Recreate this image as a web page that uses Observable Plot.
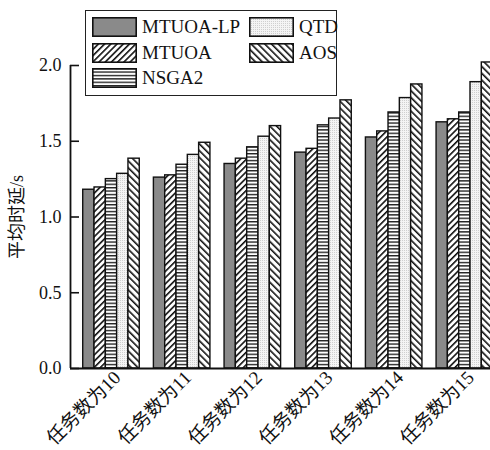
<!DOCTYPE html>
<html>
<head>
<meta charset="utf-8">
<script src="https://cdn.jsdelivr.net/npm/d3@7"></script>
<script src="https://cdn.jsdelivr.net/npm/@observablehq/plot@0.6"></script>
<style>
  html, body { margin: 0; padding: 0; background: #fff; overflow: hidden; }
  #wrap { position: relative; width: 490px; height: 450px; }
  #legend {
    position: absolute; left: 85px; top: 10px; width: 250px; height: 84px;
    border: 1.6px solid #222; background: #fff;
    font-family: "Liberation Serif", "Noto Sans CJK SC", serif; font-size: 19px; color: #111;
  }
  .item { position: absolute; height: 19px; }
  .item svg { position: absolute; left: 0; top: 0; }
  .item span { position: absolute; left: 50px; top: 0px; line-height: 19px; white-space: nowrap; }
</style>
</head>
<body>
<svg width="0" height="0" style="position:absolute">
  <defs>
    <pattern id="pLP" patternUnits="userSpaceOnUse" width="4" height="4">
      <rect width="4" height="4" fill="#8a8a8a"/>
    </pattern>
    <pattern id="pMTUOA" patternUnits="userSpaceOnUse" width="4.4" height="4.4" patternTransform="rotate(45)">
      <rect width="4.4" height="4.4" fill="#fff"/>
      <line x1="0.8" y1="0" x2="0.8" y2="4.4" stroke="#111" stroke-width="1.6"/>
    </pattern>
    <pattern id="pNSGA2" patternUnits="userSpaceOnUse" width="4" height="3.4">
      <rect width="4" height="3.4" fill="#fff"/>
      <line x1="0" y1="0.7" x2="4" y2="0.7" stroke="#111" stroke-width="1.3"/>
    </pattern>
    <pattern id="pQTD" patternUnits="userSpaceOnUse" width="2" height="2">
      <rect width="2" height="2" fill="#f4f4f4"/>
      <rect width="1" height="1" fill="#cfcfcf"/>
    </pattern>
    <pattern id="pAOS" patternUnits="userSpaceOnUse" width="4.8" height="4.8" patternTransform="rotate(-45)">
      <rect width="4.8" height="4.8" fill="#fff"/>
      <line x1="0.8" y1="0" x2="0.8" y2="4.8" stroke="#111" stroke-width="1.6"/>
    </pattern>
  </defs>
</svg>
<div id="wrap"><div id="chart"></div><div id="legend"></div></div>
<script>
// ---- data ----
const groups = ["任务数为10", "任务数为11", "任务数为12", "任务数为13", "任务数为14", "任务数为15"];
const series = ["MTUOA-LP", "MTUOA", "NSGA2", "QTD", "AOS"];
const mtuoaLP = [1.18, 1.26, 1.35, 1.425, 1.525, 1.625];
const mtuoa   = [1.195, 1.275, 1.385, 1.45, 1.565, 1.645];
const nsga2   = [1.25, 1.345, 1.46, 1.605, 1.69, 1.69];
const qtd     = [1.285, 1.41, 1.53, 1.65, 1.785, 1.89];
const aos     = [1.385, 1.49, 1.60, 1.77, 1.875, 2.02];
const yTicks  = [0, 0.5, 1.0, 1.5, 2.0];
const fills   = ["url(#pLP)", "url(#pMTUOA)", "url(#pNSGA2)", "url(#pQTD)", "url(#pAOS)"];

// ---- layout (group index axis) ----
const barW = 0.16;               // bar width as a fraction of group step
const xDomain = [-0.58, 5.363];  // visible extent of the group axis (right side clipped)
const allValues = [mtuoaLP, mtuoa, nsga2, qtd, aos];
const rows = [];
groups.forEach((g, gi) => {
  series.forEach((s, si) => {
    const x1 = gi + (si - 2.5) * barW;
    rows.push({group: g, gi, series: s, si, x1, x2: x1 + barW, value: allValues[si][gi]});
  });
});

const font = "'Liberation Serif', 'Noto Sans CJK SC', serif";

const chart = Plot.plot({
  width: 490,
  height: 450,
  marginLeft: 70,
  marginRight: 0,
  marginTop: 65,
  marginBottom: 82,
  style: {fontFamily: font, fontSize: "18px", color: "#111", background: "#fff", overflow: "hidden"},
  x: {domain: xDomain, axis: null},
  y: {domain: [0, 2], axis: null},
  color: {domain: series, range: fills},
  marks: [
    Plot.rectY(rows, {x1: "x1", x2: "x2", y1: 0, y2: "value", fill: "series", stroke: "#111", strokeWidth: 1.4, clip: false}),
    Plot.ruleY([0], {stroke: "#111", strokeWidth: 1.8}),
    Plot.ruleX([xDomain[0]], {y1: 0, y2: 2, stroke: "#111", strokeWidth: 1.8}),
    Plot.axisY({ticks: yTicks, tickSize: -9, tickFormat: () => "", label: null, strokeWidth: 1.6}),
    Plot.axisY({ticks: yTicks, tickSize: 0, tickPadding: 9, tickFormat: d3.format(".1f"), fontSize: 18,
                label: "平均时延/s", labelAnchor: "center", labelArrow: "none", labelOffset: 60}),
    Plot.axisX({ticks: d3.range(groups.length), tickFormat: i => groups[i], tickRotate: -45, tickSize: 0,
                tickPadding: 6, dx: 6, fontSize: 19, label: null})
  ]
});
document.getElementById("chart").appendChild(chart);

// ---- legend ----
const legend = document.getElementById("legend");
const pos = [[0, 0], [0, 1], [0, 2], [1, 0], [1, 1]]; // [column, row]
series.forEach((s, i) => {
  const [c, r] = pos[i];
  const it = document.createElement("div");
  it.className = "item";
  it.style.left = (c === 0 ? 6 : 163) + "px";
  it.style.top = (6 + r * 25.5) + "px";
  it.innerHTML = `<svg width="45" height="20"><rect x="0.8" y="0.8" width="43.4" height="18.4" fill="${fills[i]}" stroke="#111" stroke-width="1.6"/></svg><span>${s}</span>`;
  legend.appendChild(it);
});
</script>
</body>
</html>
